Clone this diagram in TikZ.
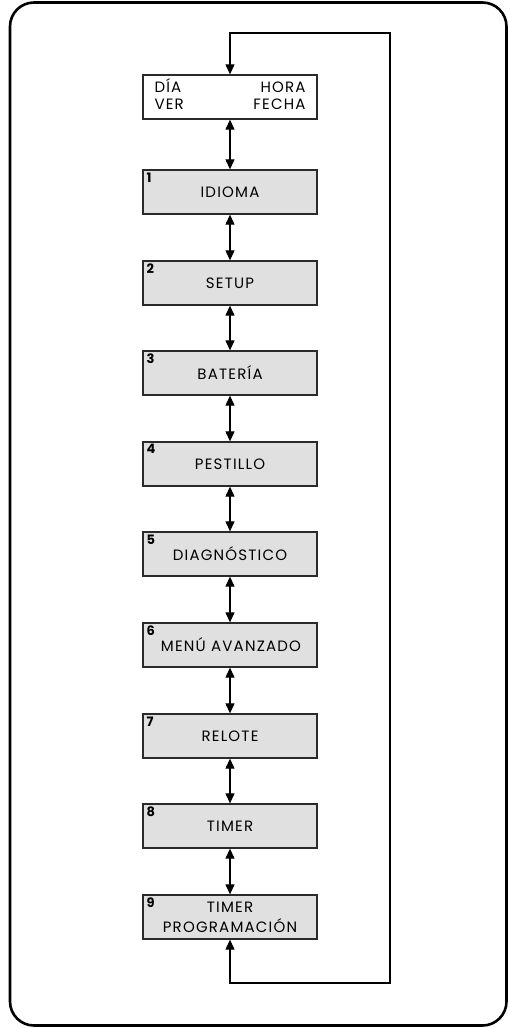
\documentclass[tikz,border=0pt]{standalone}
\usepackage{fontspec}
\setmainfont{Poppins}[LetterSpace=8]
\usetikzlibrary{arrows.meta}
\definecolor{boxfill}{HTML}{E0E0E0}
\definecolor{edge}{HTML}{2A2A2A}
\begin{document}
\begin{tikzpicture}[x=1pt,y=-1pt,
  stepbox/.style={draw=edge, line width=1.3pt, fill=boxfill, minimum width=174pt, minimum height=44pt, inner sep=0pt, font=\fontsize{15}{20}\selectfont, align=center},
  topbox/.style={draw=edge, line width=1.3pt, fill=white, minimum width=174pt, minimum height=44pt, inner sep=0pt, font=\fontsize{15}{17}\selectfont},
  num/.style={anchor=north west, inner sep=0pt, font=\fontsize{13}{13}\selectfont\bfseries},
  link/.style={line width=1.1pt, draw=black, {Triangle[length=10pt,width=9pt]}-{Triangle[length=10pt,width=9pt]}}
]
\useasboundingbox (0,0) rectangle (509,1028);
\draw[line width=2.6pt, rounded corners=24pt] (10,2.5) rectangle (506.5,1025.5);

\node[topbox] (t) at (230,97) {\begin{tabular*}{151pt}{@{}l@{\extracolsep{\fill}}r@{}}DÍA & HORA\\ VER & FECHA\end{tabular*}};
\node[stepbox] (b1) at (230,192) {IDIOMA};
\node[stepbox] (b2) at (230,283) {SETUP};
\node[stepbox] (b3) at (230,373) {BATERÍA};
\node[stepbox] (b4) at (230,464) {PESTILLO};
\node[stepbox] (b5) at (230,554) {\raisebox{-2pt}{DIAGNÓSTICO}};
\node[stepbox] (b6) at (230,645) {\hspace*{2pt}\raisebox{-3pt}{MENÚ AVANZADO}};
\node[stepbox] (b7) at (230,736) {RELOTE};
\node[stepbox] (b8) at (230,826) {TIMER};
\node[stepbox] (b9) at (230,917) {TIMER\\PROGRAMACIÓN};

\foreach \i in {1,...,9}{
  \node[num] (n\i) at ([xshift=4pt,yshift=-3pt]b\i.north west) {\i};
}

\draw[link] (t.south) -- (b1.north);
\draw[link] (b1.south) -- (b2.north);
\draw[link] (b2.south) -- (b3.north);
\draw[link] (b3.south) -- (b4.north);
\draw[link] (b4.south) -- (b5.north);
\draw[link] (b5.south) -- (b6.north);
\draw[link] (b6.south) -- (b7.north);
\draw[link] (b7.south) -- (b8.north);
\draw[link] (b8.south) -- (b9.north);

\coordinate (lb) at (230,983);
\coordinate (rb) at (390,983);
\coordinate (rt) at (390,33);
\coordinate (lt) at (230,33);
\draw[link] (b9.south) -- (lb) -- (rb) -- (rt) -- (lt) -- (t.north);
\end{tikzpicture}
\end{document}
